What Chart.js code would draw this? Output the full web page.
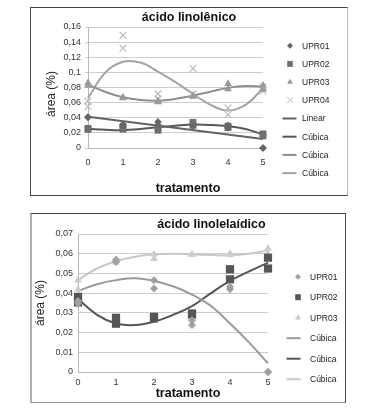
<!DOCTYPE html>
<html><head><meta charset="utf-8">
<script src="https://cdn.jsdelivr.net/npm/chart.js@4/dist/chart.umd.min.js"></script>
<style>
html,body{margin:0;padding:0;background:#fff;width:379px;height:408px;overflow:hidden;position:relative}
.box{position:absolute;box-sizing:border-box}
canvas{position:absolute}
</style></head><body>
<div class="box" style="left:30px;top:7px;width:318px;height:189px;border:1px solid #444;border-right-color:#bbb"></div>
<div class="box" style="left:30px;top:213px;width:316px;height:190px;border:1px solid #444;border-left:2px solid #b0b0b0;border-bottom-color:#999"></div>
<canvas id="c1" width="316" height="190" style="left:31px;top:8px"></canvas>
<canvas id="c2" width="314" height="188" style="left:31px;top:214px"></canvas>
<script>
// ---------- data ----------
const treatments = [0, 1, 2, 3, 4, 5];
const xTickLabels = ['0', '1', '2', '3', '4', '5'];
const fitX = [0, 0.5, 1, 1.5, 2, 2.5, 3, 3.5, 4, 4.5, 5];
const linearX = [0, 5];

// chart 1: ácido linolênico (two replicates per treatment)
const lnTitle = 'ácido linolênico';
const lnYTicks = ['0', '0,02', '0,04', '0,06', '0,08', '0,1', '0,12', '0,14', '0,16'];
const lnLegend = ['UPR01', 'UPR02', 'UPR03', 'UPR04', 'Linear', 'Cúbica', 'Cúbica', 'Cúbica'];
const lnUPR01 = [[0.041, 0.0405], [0.031, 0.029], [0.0345, 0.030], [0.030, 0.029], [0.0297, 0.027], [0, 0]];
const lnUPR02 = [[0.026, 0.0245], [0.028, 0.025], [0.0235, 0.027], [0.034, 0.030], [0.027, 0.029], [0.0187, 0.016]];
const lnUPR03 = [[0.086, 0.0825], [0.0667, 0.066], [0.062, 0.0607], [0.069, 0.068], [0.085, 0.078], [0.0825, 0.0775]];
const lnUPR04 = [[0.062, 0.055], [0.149, 0.132], [0.0716, 0.065], [0.105, 0.0716], [0.053, 0.044], [0.081, 0.075]];
const lnFitLinear01 = [0.0412, 0.012];
const lnFitCubic02 = [0.0253, 0.024, 0.0235, 0.025, 0.0275, 0.0295, 0.031, 0.0305, 0.0288, 0.025, 0.0178];
const lnFitCubic03 = [0.0838, 0.074, 0.067, 0.0635, 0.0627, 0.065, 0.0693, 0.0745, 0.0795, 0.082, 0.081];
const lnFitCubic04 = [0.066, 0.100, 0.114, 0.113, 0.101, 0.087, 0.0715, 0.057, 0.0495, 0.057, 0.079];

// chart 2: ácido linolelaídico
const leTitle = 'ácido linolelaídico';
const leYTicks = ['0', '0,01', '0,02', '0,03', '0,04', '0,05', '0,06', '0,07'];
const leLegend = ['UPR01', 'UPR02', 'UPR03', 'Cúbica', 'Cúbica', 'Cúbica'];
const leUPR01 = [[0.0348, 0.036], [0.057, 0.0558], [0.0466, 0.0423], [0.0263, 0.0238], [0.0432, 0.042], [0, 0]];
const leUPR02 = [[0.0381, 0.0353], [0.0275, 0.0245], [0.028, 0.0272], [0.0297, 0.0292], [0.0521, 0.047], [0.058, 0.0525]];
const leUPR03 = [[0.0466, 0.0419], [0.057, 0.0557], [0.0597, 0.0575], [0.0597, 0.0595], [0.060, 0.0595], [0.0626, 0.060]];
const leFitCubic01 = [0.0411, 0.0445, 0.0466, 0.0475, 0.0462, 0.0435, 0.0393, 0.0335, 0.0246, 0.015, 0.0044];
const leFitCubic02 = [0.037, 0.029, 0.0246, 0.0238, 0.0255, 0.029, 0.0334, 0.040, 0.0462, 0.051, 0.0555];
const leFitCubic03 = [0.0466, 0.0525, 0.0562, 0.0585, 0.0596, 0.060, 0.0596, 0.0593, 0.0592, 0.060, 0.0617];

const xTitle = 'tratamento';
const yTitle = 'área (%)';

// ---------- helpers ----------
const FONT = "'Liberation Sans', Arial, sans-serif";
function pts(reps) {
  const out = [];
  reps.forEach((pair, i) => pair.forEach(v => out.push({x: treatments[i], y: v})));
  return out;
}
function curve(xs, ys) { return ys.map((y, i) => ({x: xs[i], y: y})); }
function scatterDs(label, reps, style, color, r) {
  return {label, data: pts(reps), pointStyle: style, pointRadius: r, pointHoverRadius: r,
    backgroundColor: color, borderColor: color, pointBorderWidth: style === 'crossRot' ? 1.2 : 0,
    showLine: false, clip: false};
}
function lineDs(label, xs, ys, color, tension) {
  return {label, data: curve(xs, ys), showLine: true, pointRadius: 0, borderColor: color,
    backgroundColor: color, borderWidth: 2, tension: tension, fill: false, clip: false};
}
function marker(ctx, style, x, y, color) {
  ctx.fillStyle = color; ctx.strokeStyle = color; ctx.lineWidth = 1;
  ctx.beginPath();
  if (style === 'rectRot') { const r = 3; ctx.moveTo(x - r, y); ctx.lineTo(x, y - r); ctx.lineTo(x + r, y); ctx.lineTo(x, y + r); ctx.closePath(); ctx.fill(); }
  else if (style === 'rect') { ctx.rect(x - 2.8, y - 3, 5.6, 6); ctx.fill(); }
  else if (style === 'triangle') { const r = 3.4; ctx.moveTo(x, y - r); ctx.lineTo(x + r * 0.866, y + r / 2); ctx.lineTo(x - r * 0.866, y + r / 2); ctx.closePath(); ctx.fill(); }
  else if (style === 'crossRot') { const d = 3; ctx.moveTo(x - d, y - d); ctx.lineTo(x + d, y + d); ctx.moveTo(x + d, y - d); ctx.lineTo(x - d, y + d); ctx.stroke(); }
}
const decor = {
  id: 'decor',
  afterDraw(chart, args, o) {
    const ctx = chart.ctx;
    ctx.save();
    ctx.textBaseline = 'middle';
    ctx.textAlign = 'center';
    ctx.fillStyle = '#111';
    ctx.font = 'bold 12.5px ' + FONT;
    ctx.fillText(o.title, o.titleX, o.titleY);
    ctx.fillText(o.xTitle, o.xTitleX, o.xTitleY);
    ctx.save();
    ctx.translate(o.yTitleX, o.yTitleY);
    ctx.rotate(-Math.PI / 2);
    ctx.font = '12px ' + FONT;
    ctx.fillStyle = '#222';
    ctx.fillText(o.yTitle, 0, 0);
    ctx.restore();
    ctx.font = '8.5px ' + FONT;
    chart.data.datasets.forEach((ds, i) => {
      const y = o.legendY0 + i * o.legendDy;
      if (ds.showLine) {
        ctx.strokeStyle = ds.borderColor; ctx.lineWidth = 2;
        ctx.beginPath(); ctx.moveTo(o.lineX - 7, y); ctx.lineTo(o.lineX + 7, y); ctx.stroke();
      } else {
        marker(ctx, ds.pointStyle, o.markerX, y, ds.backgroundColor);
      }
      ctx.fillStyle = '#222'; ctx.textAlign = 'left';
      ctx.fillText(ds.label, o.textX, y + 0.5);
    });
    ctx.restore();
  }
};

function makeChart(id, datasets, yMax, yStep, yTicks, yWidth, xHeight, pad, xPad, yPadding, decorOpts, yTickLen) {
  return new Chart(document.getElementById(id), {
    type: 'scatter',
    data: {datasets},
    plugins: [decor],
    options: {
      responsive: false, animation: false, devicePixelRatio: 1,
      layout: {padding: pad},
      plugins: {legend: {display: false}, tooltip: {enabled: false}, title: {display: false}, decor: decorOpts},
      scales: {
        x: {type: 'linear', min: 0, max: 5,
          afterFit: s => { s.height = xHeight; },
          ticks: {stepSize: 1, padding: xPad, color: '#333', font: {family: FONT, size: 9},
            callback: (v, i) => xTickLabels[i] !== undefined ? xTickLabels[i] : v},
          grid: {display: true, color: 'rgba(0,0,0,0)', drawTicks: false},
          border: {display: true, color: '#b8b8b8', width: 1}},
        y: {min: 0, max: yMax,
          afterFit: s => { s.width = yWidth; },
          ticks: {stepSize: yStep, padding: yPadding, color: '#333', font: {family: FONT, size: 9},
            callback: (v, i) => yTicks[i] !== undefined ? yTicks[i] : v},
          grid: {color: '#cdcdcd', lineWidth: 1, drawTicks: yTickLen > 0, tickLength: yTickLen},
          border: {display: true, color: '#b8b8b8', width: 1}}
      }
    }
  });
}

// ---------- chart 1 ----------
makeChart('c1', [
  scatterDs(lnLegend[0], lnUPR01, 'rectRot', '#666666', 3.8),
  scatterDs(lnLegend[1], lnUPR02, 'rect', '#707070', 4.8),
  scatterDs(lnLegend[2], lnUPR03, 'triangle', '#9a9a9a', 4.5),
  scatterDs(lnLegend[3], lnUPR04, 'crossRot', '#bdbdbd', 4.8),
  lineDs(lnLegend[4], linearX, lnFitLinear01, '#636363', 0),
  lineDs(lnLegend[5], fitX, lnFitCubic02, '#585858', 0.4),
  lineDs(lnLegend[6], fitX, lnFitCubic03, '#8e8e8e', 0.4),
  lineDs(lnLegend[7], fitX, lnFitCubic04, '#a4a4a4', 0.4)
], 0.16, 0.02, lnYTicks, 57, 50, {top: 19, right: 84, left: 0, bottom: 0}, 9, 4,
{title: lnTitle, titleX: 158, titleY: 9.5, xTitle: xTitle, xTitleX: 157, xTitleY: 180.5,
 yTitle: yTitle, yTitleX: 21, yTitleY: 86, markerX: 259, lineX: 258.5, textX: 271, legendY0: 37.7, legendDy: 18.2}, 3);

// ---------- chart 2 ----------
makeChart('c2', [
  scatterDs(leLegend[0], leUPR01, 'rectRot', '#a0a0a0', 4),
  scatterDs(leLegend[1], leUPR02, 'rect', '#555555', 5.8),
  scatterDs(leLegend[2], leUPR03, 'triangle', '#cccccc', 4.5),
  lineDs(leLegend[3], fitX, leFitCubic01, '#9a9a9a', 0.4),
  lineDs(leLegend[4], fitX, leFitCubic02, '#555555', 0.4),
  lineDs(leLegend[5], fitX, leFitCubic03, '#c8c8c8', 0.4)
], 0.07, 0.01, leYTicks, 47, 30, {top: 20, right: 77, left: 0, bottom: 0}, 5, 5,
{title: leTitle, titleX: 180.5, titleY: 10.5, xTitle: xTitle, xTitleX: 157, xTitleY: 179.5,
 yTitle: yTitle, yTitleX: 9.5, yTitleY: 89, markerX: 267, lineX: 262.5, textX: 279, legendY0: 62.7, legendDy: 20.5}, 0);
</script>
</body></html>
